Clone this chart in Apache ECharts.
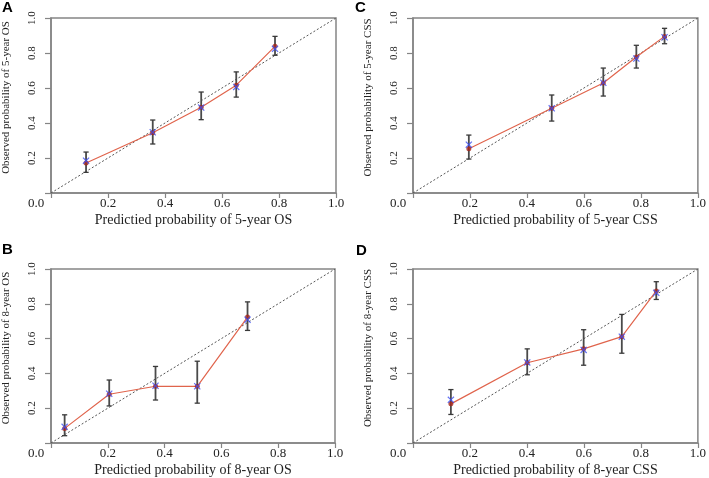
<!DOCTYPE html>
<html>
<head>
<meta charset="utf-8">
<script src="https://cdn.jsdelivr.net/npm/echarts@6/dist/echarts.min.js"></script>
<style>html,body{margin:0;padding:0;background:#fff;}#c{width:709px;height:478px;}</style>
</head>
<body>
<div id="c"></div>
<script>
// ---- data ----
var panelLabels = ['A', 'B', 'C', 'D'];
var xTitles = ['Predictied probability of 5-year OS', 'Predictied probability of 8-year OS',
               'Predictied probability of 5-year CSS', 'Predictied probability of 8-year CSS'];
var yTitles = ['Observed probability of 5-year OS', 'Observed probability of 8-year OS',
               'Observed probability of 5-year CSS', 'Observed probability of 8-year CSS'];
var tickValues = [0, 0.2, 0.4, 0.6, 0.8, 1.0];
var xTickLabels = ['0.0', '0.2', '0.4', '0.6', '0.8', '1.0'];
var yTickLabels = ['', '0.2', '0.4', '0.6', '0.8', '1.0'];

var predA = [0.123, 0.357, 0.527, 0.650, 0.786];
var obsA  = [0.171, 0.344, 0.490, 0.616, 0.838];
var bcA   = [0.185, 0.347, 0.488, 0.606, 0.824];
var loA   = [0.118, 0.280, 0.419, 0.548, 0.787];
var hiA   = [0.234, 0.417, 0.577, 0.692, 0.895];

var predB = [0.048, 0.205, 0.368, 0.515, 0.692];
var obsB  = [0.084, 0.280, 0.326, 0.326, 0.724];
var bcB   = [0.093, 0.283, 0.329, 0.326, 0.709];
var loB   = [0.042, 0.213, 0.247, 0.229, 0.647];
var hiB   = [0.162, 0.362, 0.440, 0.470, 0.811];

var predC = [0.196, 0.487, 0.668, 0.784, 0.883];
var obsC  = [0.253, 0.484, 0.629, 0.777, 0.895];
var bcC   = [0.276, 0.484, 0.630, 0.768, 0.890];
var loC   = [0.194, 0.411, 0.554, 0.714, 0.853];
var hiC   = [0.331, 0.560, 0.714, 0.844, 0.941];

var predD = [0.133, 0.401, 0.599, 0.733, 0.854];
var obsD  = [0.225, 0.461, 0.541, 0.611, 0.874];
var bcD   = [0.248, 0.463, 0.535, 0.611, 0.863];
var loD   = [0.164, 0.392, 0.447, 0.516, 0.825];
var hiD   = [0.307, 0.541, 0.651, 0.739, 0.927];

var diagonal = [[0, 0], [1, 1]];

// ---- build ----
var panels = [
  {pred: predA, obs: obsA, bc: bcA, lo: loA, hi: hiA, left: 51, top: 18, lx: 2, ly: 0},
  {pred: predB, obs: obsB, bc: bcB, lo: loB, hi: hiB, left: 50, top: 269, lx: 2, ly: 242},
  {pred: predC, obs: obsC, bc: bcC, lo: loC, hi: hiC, left: 413, top: 18, lx: 355, ly: 0},
  {pred: predD, obs: obsD, bc: bcD, lo: loD, hi: hiD, left: 413, top: 269, lx: 356, ly: 243}
];
var serif = '"Liberation Serif", "DejaVu Serif", serif';
var gray = '#858585';
var grids = [], xAxes = [], yAxes = [], series = [], graphics = [];
var xMark = 'path://M0,1.2L1.2,0L5,3.8L8.8,0L10,1.2L6.2,5L10,8.8L8.8,10L5,6.2L1.2,10L0,8.8L3.8,5Z';

panels.forEach(function (p, i) {
  grids.push({left: p.left, top: p.top, width: 285, height: 175, show: true,
              borderColor: gray, borderWidth: 1.5, backgroundColor: 'transparent'});
  xAxes.push({
    type: 'value', gridIndex: i, min: 0, max: 1, interval: 0.2,
    name: xTitles[i], nameLocation: 'middle', nameGap: 20,
    nameTextStyle: {fontFamily: serif, fontSize: 14, color: '#222'},
    axisLine: {show: true, lineStyle: {color: gray, width: 1.5}},
    axisTick: {show: true, length: 5, lineStyle: {color: gray, width: 1.2}},
    splitLine: {show: false},
    axisLabel: {
      margin: 4, fontFamily: serif, fontSize: 13, color: '#222',
      formatter: function (v) {
        var k = tickValues.indexOf(Math.round(v * 10) / 10);
        var s = k >= 0 ? xTickLabels[k] : '';
        return k === 0 ? '{z|' + s + '}' : s;
      },
      rich: {z: {fontFamily: serif, fontSize: 13, color: '#222', padding: [0, 30, 0, 0]}}
    }
  });
  yAxes.push({
    type: 'value', gridIndex: i, min: 0, max: 1, interval: 0.2,
    name: yTitles[i], nameLocation: 'middle', nameGap: 39, nameRotate: 90,
    nameTextStyle: {fontFamily: serif, fontSize: 11, color: '#222', padding: [0, 0, 0, 16]},
    axisLine: {show: true, lineStyle: {color: gray, width: 1.5}},
    axisTick: {show: true, length: 6, lineStyle: {color: gray, width: 1.2}},
    splitLine: {show: false},
    axisLabel: {
      margin: 13, rotate: 90, fontFamily: serif, fontSize: 11, color: '#222',
      formatter: function (v) {
        var k = tickValues.indexOf(Math.round(v * 10) / 10);
        return k >= 0 ? yTickLabels[k] : '';
      }
    }
  });
  var pairsObs = p.pred.map(function (x, j) { return [x, p.obs[j]]; });
  var pairsBc = p.pred.map(function (x, j) { return [x, p.bc[j]]; });
  var bars = p.pred.map(function (x, j) { return [x, p.lo[j], p.hi[j]]; });
  series.push({
    type: 'line', xAxisIndex: i, yAxisIndex: i, data: diagonal, symbol: 'none', silent: true,
    lineStyle: {color: '#555', width: 1, type: [2, 2]}, z: 1
  });
  series.push({
    type: 'custom', xAxisIndex: i, yAxisIndex: i, data: bars, z: 2,
    encode: {x: 0, y: [1, 2]},
    renderItem: function (params, api) {
      var x = api.value(0);
      var a = api.coord([x, api.value(1)]);
      var b = api.coord([x, api.value(2)]);
      var w = 2.6;
      return {type: 'group', children: [
        {type: 'line', shape: {x1: a[0], y1: a[1], x2: b[0], y2: b[1]}, style: {stroke: '#4a4a4a', lineWidth: 1.8}},
        {type: 'line', shape: {x1: a[0] - w, y1: a[1], x2: a[0] + w, y2: a[1]}, style: {stroke: '#3a3a3a', lineWidth: 1.3}},
        {type: 'line', shape: {x1: b[0] - w, y1: b[1], x2: b[0] + w, y2: b[1]}, style: {stroke: '#3a3a3a', lineWidth: 1.3}}
      ]};
    }
  });
  series.push({
    type: 'line', xAxisIndex: i, yAxisIndex: i, data: pairsObs, symbol: 'none', z: 3,
    lineStyle: {color: '#e0644c', width: 1.2}
  });
  series.push({
    type: 'scatter', xAxisIndex: i, yAxisIndex: i, data: pairsObs, symbol: 'circle', symbolSize: 5, z: 4,
    itemStyle: {color: '#a3261a'}
  });
  series.push({
    type: 'scatter', xAxisIndex: i, yAxisIndex: i, data: pairsBc, symbol: xMark, symbolSize: 7, z: 5,
    itemStyle: {color: '#3d4ff0'}
  });
  graphics.push({type: 'text', left: p.lx, top: p.ly,
    style: {text: panelLabels[i], font: 'bold 15px "Liberation Sans", Arial, sans-serif', fill: '#000'}});
});

var chart = echarts.init(document.getElementById('c'), null, {renderer: 'canvas'});
chart.setOption({
  animation: false,
  backgroundColor: '#fff',
  grid: grids, xAxis: xAxes, yAxis: yAxes, series: series, graphic: graphics
});
</script>
</body>
</html>
